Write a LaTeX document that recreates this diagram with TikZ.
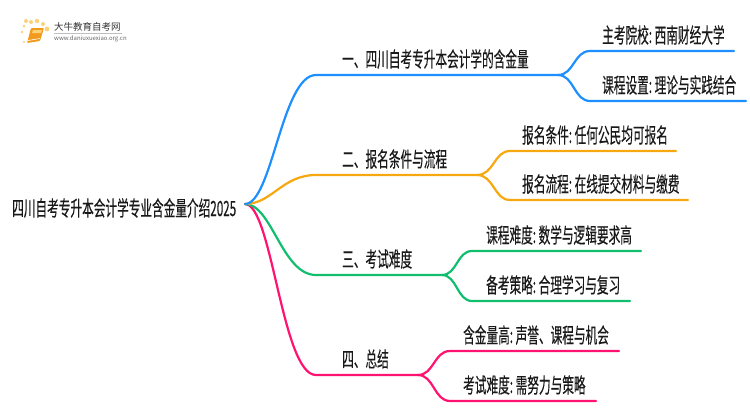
\documentclass[tikz,border=0pt]{standalone}
\usepackage{fontspec}
\newfontfamily\cjk[FakeStretch=0.555,FakeBold=0.25]{Noto Sans CJK SC}
\newfontfamily\cjklogo{Noto Sans CJK SC}
\definecolor{cblue}{HTML}{1E8FFF}
\definecolor{corange}{HTML}{F5A810}
\definecolor{cgreen}{HTML}{10BE6E}
\definecolor{cpink}{HTML}{FF1270}
\definecolor{cbook}{HTML}{F29A1E}
\definecolor{cdot}{HTML}{FBD27A}
\tikzset{
  lab/.style={font=\cjk\fontsize{21}{23}\selectfont,text=black!90,inner sep=0pt,anchor=base west},
  link/.style={line width=2.2pt,line cap=round},
  sundot/.style={circle,fill=cdot,inner sep=0pt},
}
\newcommand{\sepgap}{:\hspace{2.6pt}}
\begin{document}
\begin{tikzpicture}[x=1pt,y=-1pt]
\useasboundingbox (0,0) rectangle (750,410);
% logo
\foreach \n/\a/\b/\r in {d1/24/26/1.5,d2/22/32/1.3,d3/24/42/1.2,d4/26/21/2,d5/31/22/2,d6/37/21/2.2,d7/43/24/2,d8/47/29/2.4}
  \node[sundot,minimum size=2*\r pt] (\n) at (\a,\b) {};
\fill[cbook,rounded corners=1pt] (31,28) -- (44,28) -- (40,41) -- (27,43) -- cycle;
\fill[cdot] (33,30) -- (42,30) -- (41,33) -- (32,33) -- cycle;
\draw[white,line width=.6pt] (28,40.5) -- (40,38.5);
\node[inner sep=0pt,anchor=west,font=\cjklogo\fontsize{9.5}{10}\selectfont,text=black!80] (logot) at (54,27) {大牛教育自考网};
\node[inner sep=0pt,anchor=west,font=\cjklogo\fontsize{6}{7}\selectfont,text=black!60] (logou) at (54,39) {www.daniuxuexiao.org.cn};
\draw[black!25,line width=.5pt] (54,33) -- (122,33);
% root
\node[lab] (root) at (12,216) {四川自考专升本会计学专业含金量介绍2025};
\coordinate (o) at (245,204);
% level 1
\node[lab] (a) at (342,67) {一、四川自考专升本会计学的含金量};
\node[lab] (b) at (342,167) {二、报名条件与流程};
\node[lab] (c) at (342,267) {三、考试难度};
\node[lab] (d) at (342,367) {四、总结};
% level 2
\node[lab] (a1) at (602,43) {主考院校\sepgap 西南财经大学};
\node[lab] (a2) at (602,93) {课程设置\sepgap 理论与实践结合};
\node[lab] (b1) at (522,143) {报名条件\sepgap 任何公民均可报名};
\node[lab] (b2) at (522,192) {报名流程\sepgap 在线提交材料与缴费};
\node[lab] (c1) at (486,243) {课程难度\sepgap 数学与逻辑要求高};
\node[lab] (c2) at (486,293) {备考策略\sepgap 合理学习与复习};
\node[lab] (d1) at (463,343) {含金量高\sepgap 声誉、课程与机会};
\node[lab] (d2) at (463,393) {考试难度\sepgap 需努力与策略};
% line joints
\foreach \n/\x/\y in {as/316/75,ae/558/75,a1s/590/51,a1e/734/51,a2s/590/101,a2e/746/101,
  bs/316/175,be/477/175,b1s/510/151,b1e/676/151,b2s/510/200,b2e/688/200,
  cs/316/275,ce/442/275,c1s/472/251,c1e/641/251,c2s/472/301,c2e/630/301,
  ds/316/375,de/418/375,d1s/450/351,d1e/619/351,d2s/450/401,d2e/596/401}
  \coordinate (\n) at (\x,\y);
% connectors
\draw[link,cpink] (o) .. controls (272,204) and (282,375) .. (ds) -- (de);
\draw[link,cpink] (de) .. controls (434,375) and (434,351) .. (d1s) -- (d1e);
\draw[link,cpink] (de) .. controls (434,375) and (434,401) .. (d2s) -- (d2e);
\draw[link,cgreen] (o) .. controls (272,204) and (282,275) .. (cs) -- (ce);
\draw[link,cgreen] (ce) .. controls (457,275) and (457,251) .. (c1s) -- (c1e);
\draw[link,cgreen] (ce) .. controls (457,275) and (457,301) .. (c2s) -- (c2e);
\draw[link,corange] (o) .. controls (272,204) and (282,175) .. (bs) -- (be);
\draw[link,corange] (be) .. controls (494,175) and (494,151) .. (b1s) -- (b1e);
\draw[link,corange] (be) .. controls (494,175) and (494,200) .. (b2s) -- (b2e);
\draw[link,cblue] (o) .. controls (272,204) and (282,75) .. (as) -- (ae);
\draw[link,cblue] (ae) .. controls (574,75) and (574,51) .. (a1s) -- (a1e);
\draw[link,cblue] (ae) .. controls (574,75) and (574,101) .. (a2s) -- (a2e);
\end{tikzpicture}
\end{document}
